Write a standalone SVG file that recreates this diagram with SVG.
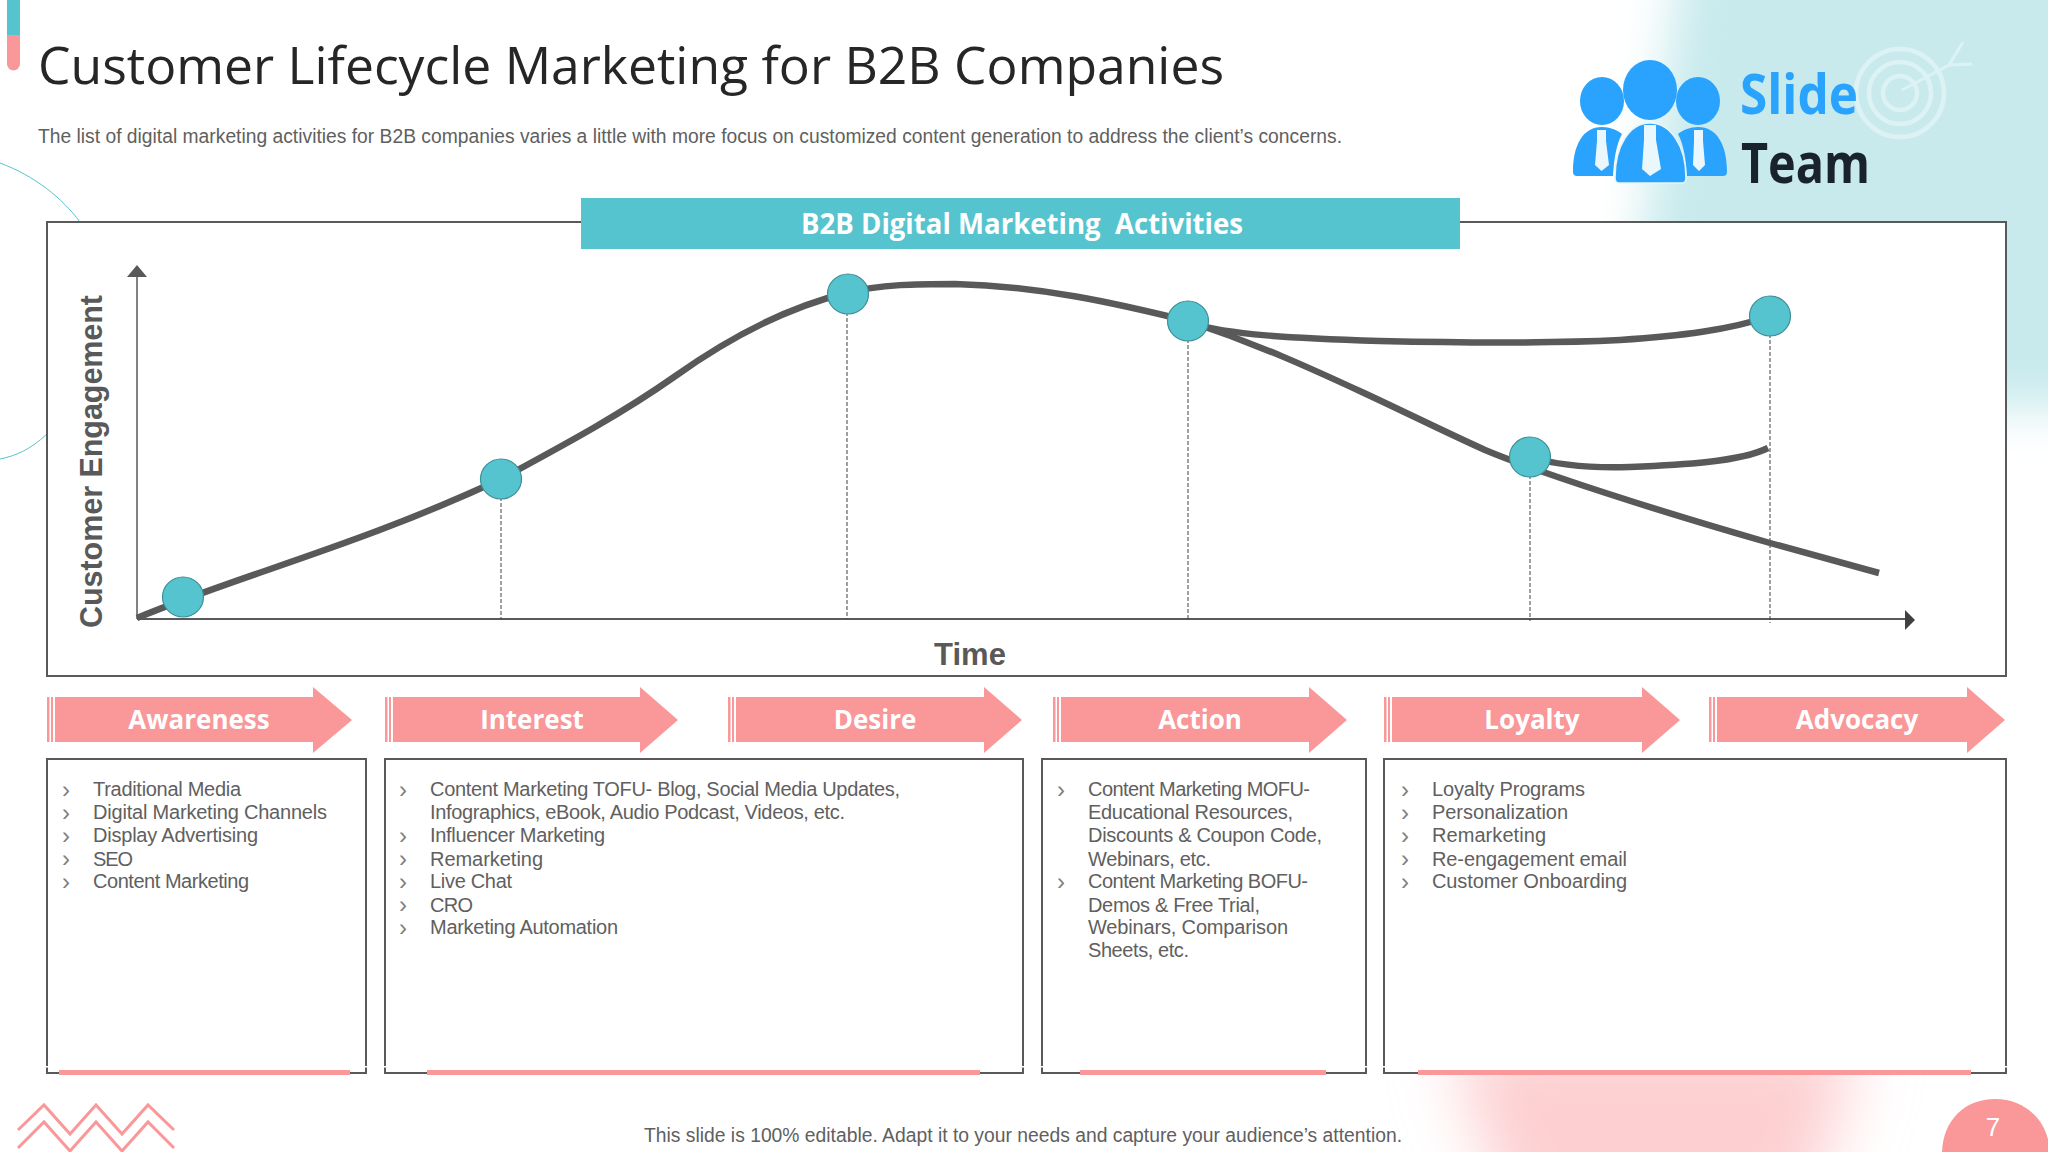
<svg xmlns="http://www.w3.org/2000/svg" width="2048" height="1152" viewBox="0 0 2048 1152">
<defs>
<filter id="blurA" filterUnits="userSpaceOnUse" x="1400" y="-200" width="900" height="800"><feGaussianBlur stdDeviation="24"/></filter>
<filter id="blurB" filterUnits="userSpaceOnUse" x="1250" y="900" width="800" height="420"><feGaussianBlur stdDeviation="32"/></filter>
</defs>
<style>
.t{font-family:"Liberation Sans",Arial,sans-serif;fill:#606060;font-size:20px}
.o{font-family:"Open Sans","Noto Sans",sans-serif}
.box{fill:#fff;stroke:#595959;stroke-width:2}
.arr{fill:#f99799}
.arrlbl{font-family:"Open Sans","Noto Sans",sans-serif;font-weight:700;font-size:26px;fill:#fff;text-anchor:middle}
.under{fill:#f99799}
.nick{fill:#fff}
.dash{stroke:#404040;stroke-width:1;stroke-dasharray:4 2;fill:none}
.curve{fill:none;stroke:#595959;stroke-width:6.500}
.dot{fill:#56c4cf;stroke:#3f8f98;stroke-width:1.2}
.b{font-family:"Liberation Sans",Arial,sans-serif;fill:#7f7f7f;font-size:24px}
</style>
<rect width="2048" height="1152" fill="#fff"/>
<g id="background">
<path d="M1690 -100H2148V408H1618Z" fill="#c8eaed" filter="url(#blurA)"/>
<path d="M1450 1040H1860L1805 1220H1510Z" fill="#fdcfd0" filter="url(#blurB)"/>
<path d="M0 163C35 176 62 198 80 222" fill="none" stroke="#56c4cf" stroke-width="1"/>
<path d="M47 434C30 450 15 456 0 459" fill="none" stroke="#56c4cf" stroke-width="1"/>
<rect x="7" y="0" width="13" height="35" fill="#56c4cf"/>
<path d="M7 35H20V64A6.500 6.500 0 0 1 7 64Z" fill="#f99799"/>
<g fill="none" stroke="#f99799" stroke-width="3">
<path d="M18 1130L44 1105L70 1134L96 1105L122 1134L148 1105L174 1130"/>
<path d="M18 1148L44 1122L70 1151L96 1122L122 1151L148 1122L174 1148"/>
</g>
<path d="M1942 1152C1943 1120 1965 1099 1995 1099C2025 1099 2048 1120 2050 1152Z" fill="#f99799"/>
<text x="1993" y="1136" font-family="Liberation Sans,Arial,sans-serif" font-size="26" fill="#fff" text-anchor="middle">7</text>
</g>
<g id="logo">
<g fill="none" stroke="#e2f5f7" stroke-width="4.500" opacity="0.8">
<circle cx="1900" cy="93" r="44"/><circle cx="1900" cy="93" r="31"/><circle cx="1900" cy="93" r="17"/>
<path d="M1902 90L1949 65L1963 42M1949 65L1972 64" stroke-width="3"/>
</g>
<g fill="#29a3fe">
<ellipse cx="1602" cy="101" rx="22" ry="24"/>
<ellipse cx="1698" cy="101" rx="22" ry="24"/>
<ellipse cx="1650" cy="90" rx="27" ry="30"/>
<path d="M1573 172C1573 145 1583 127 1602 127C1610 127 1617 130 1622 134C1616 145 1614 160 1613 176H1577C1575 176 1573 175 1573 172Z"/>
<path d="M1678 134C1683 130 1690 127 1698 127C1717 127 1727 145 1727 172C1727 175 1725 176 1723 176H1687C1686 160 1684 145 1678 134Z"/>
<path d="M1615 178C1615 145 1630 123 1650 123C1670 123 1686 145 1686 178C1686 181 1684 183 1682 183H1619C1617 183 1615 181 1615 178Z" stroke="#e6f6f8" stroke-width="1.500"/>
</g>
<g fill="#eaf8fd">
<path d="M1597 130H1606V141L1609 165L1601.500 171L1595 165L1597 141Z"/>
<path d="M1644 125H1656V140L1661 169L1650 176L1642 169L1644 140Z"/>
<path d="M1694 130H1703V141L1705 165L1699 171L1693 165L1694 141Z"/>
</g>
<text x="1740" y="114" font-family="Open Sans,Noto Sans,sans-serif" font-weight="700" font-size="56" fill="#29a3fe" textLength="118" lengthAdjust="spacingAndGlyphs">Slide</text>
<text x="1741" y="183" font-family="Open Sans,Noto Sans,sans-serif" font-weight="700" font-size="56" fill="#18232d" textLength="129" lengthAdjust="spacingAndGlyphs">Team</text>
</g>
<g id="header">
<text class="o" x="38" y="84" font-size="52" fill="#262626" textLength="1186" lengthAdjust="spacingAndGlyphs">Customer Lifecycle Marketing for B2B Companies</text>
<text class="t" x="38" y="143" textLength="1304" lengthAdjust="spacingAndGlyphs">The list of digital marketing activities for B2B companies varies a little with more focus on customized content generation to address the client’s concerns.</text>
</g>
<g id="chart">
<rect class="box" x="47" y="222" width="1959" height="454"/>
<rect x="581" y="198" width="879" height="51" fill="#56c4cf"/>
<text x="1022" y="234" class="o" font-weight="700" font-size="29" fill="#fff" text-anchor="middle" textLength="442" lengthAdjust="spacingAndGlyphs" xml:space="preserve">B2B Digital Marketing  Activities</text>
<text transform="translate(102 628) rotate(-90)" font-family="Liberation Sans,Arial,sans-serif" font-weight="700" font-size="31" fill="#595959" textLength="333" lengthAdjust="spacingAndGlyphs">Customer Engagement</text>
<text x="970" y="665" font-family="Liberation Sans,Arial,sans-serif" font-weight="700" font-size="31" fill="#595959" text-anchor="middle">Time</text>
</g>
<g id="connectors">
<path d="M137 619V275" stroke="#595959" stroke-width="1.500" fill="none"/><path d="M127 277L137 265L147 277Z" fill="#595959"/>
<path d="M137 619H1906" stroke="#595959" stroke-width="2" fill="none"/><path d="M1905 610L1915 620L1905 630Z" fill="#404040"/>
<path class="dash" d="M501 479V619M847 294V619M1188 321V621M1530 457V621M1770 316V623"/>
<path class="curve" d="M137 618C240 575 360 545 501 479C560 447 620 415 674 377C730 337 785 308 846 293C880 284 920 284 955 284C1040 286 1115 303 1188 321C1260 345 1310 368 1364 393C1405 412 1445 432 1485 450C1540 473 1655 510 1770 543L1879 573"/>
<path class="curve" d="M1190 323C1230 335 1290 338 1380 341C1470 343 1560 343 1620 340C1680 336 1730 330 1770 316"/>
<path class="curve" d="M1530 457C1560 466 1600 468 1630 467C1680 465 1740 462 1768 448"/>
</g>
<g id="node-1"><ellipse class="dot" cx="183" cy="597" rx="20.500" ry="20"/></g>
<g id="node-2"><ellipse class="dot" cx="501" cy="479" rx="20.500" ry="20"/></g>
<g id="node-3"><ellipse class="dot" cx="848" cy="294" rx="20.500" ry="20"/></g>
<g id="node-4"><ellipse class="dot" cx="1188" cy="321" rx="20.500" ry="20"/></g>
<g id="node-5"><ellipse class="dot" cx="1530" cy="457" rx="20.500" ry="20"/></g>
<g id="node-6"><ellipse class="dot" cx="1770" cy="316" rx="20.500" ry="20"/></g>
<g id="stage-awareness">
<path class="arr" d="M47 697H49.500V742H47ZM51 697V742H53V697ZM55 697H313V687L352 720L313 753V742H55Z"/>
<text class="arrlbl" x="199" y="729">Awareness</text>
</g>
<g id="stage-interest">
<path class="arr" d="M385 697H387.500V742H385ZM389 697V742H391V697ZM393 697H640V687L678 720L640 753V742H393Z"/>
<text class="arrlbl" x="532" y="729">Interest</text>
</g>
<g id="stage-desire">
<path class="arr" d="M728 697H730.500V742H728ZM732 697V742H734V697ZM736 697H984V687L1022 720L984 753V742H736Z"/>
<text class="arrlbl" x="875" y="729">Desire</text>
</g>
<g id="stage-action">
<path class="arr" d="M1053 697H1055.500V742H1053ZM1057 697V742H1059V697ZM1061 697H1309V687L1347 720L1309 753V742H1061Z"/>
<text class="arrlbl" x="1200" y="729">Action</text>
</g>
<g id="stage-loyalty">
<path class="arr" d="M1384 697H1386.500V742H1384ZM1388 697V742H1390V697ZM1392 697H1642V687L1680 720L1642 753V742H1392Z"/>
<text class="arrlbl" x="1532" y="729">Loyalty</text>
</g>
<g id="stage-advocacy">
<path class="arr" d="M1709 697H1711.500V742H1709ZM1713 697V742H1715V697ZM1717 697H1967V687L2005 720L1967 753V742H1717Z"/>
<text class="arrlbl" x="1857" y="729">Advocacy</text>
</g>
<g id="box-awareness">
<rect class="box" x="47" y="759" width="319" height="314"/><rect class="under" x="59" y="1070" width="291" height="5"/>
<rect class="nick" x="45" y="1066" width="4" height="1.500"/><rect class="nick" x="364" y="1066" width="4" height="1.500"/>
<text class="b" x="62" y="798">›</text><text class="b" x="62" y="821">›</text><text class="b" x="62" y="844">›</text><text class="b" x="62" y="867">›</text><text class="b" x="62" y="890">›</text>
<text class="t" x="93" y="796" textLength="148">Traditional Media</text>
<text class="t" x="93" y="819" textLength="234">Digital Marketing Channels</text>
<text class="t" x="93" y="842" textLength="165">Display Advertising</text>
<text class="t" x="93" y="866" textLength="40">SEO</text>
<text class="t" x="93" y="888" textLength="156">Content Marketing</text>
</g>
<g id="box-interest">
<rect class="box" x="385" y="759" width="638" height="314"/><rect class="under" x="427" y="1070" width="553" height="5"/>
<rect class="nick" x="383" y="1066" width="4" height="1.500"/><rect class="nick" x="1021" y="1066" width="4" height="1.500"/>
<text class="b" x="399" y="798">›</text><text class="b" x="399" y="844">›</text><text class="b" x="399" y="867">›</text><text class="b" x="399" y="890">›</text><text class="b" x="399" y="913">›</text><text class="b" x="399" y="936">›</text>
<text class="t" x="430" y="796" textLength="470">Content Marketing TOFU- Blog, Social Media Updates,</text>
<text class="t" x="430" y="819" textLength="415">Infographics, eBook, Audio Podcast, Videos, etc.</text>
<text class="t" x="430" y="842" textLength="175">Influencer Marketing</text>
<text class="t" x="430" y="866" textLength="113">Remarketing</text>
<text class="t" x="430" y="888" textLength="82">Live Chat</text>
<text class="t" x="430" y="912" textLength="43">CRO</text>
<text class="t" x="430" y="934" textLength="188">Marketing Automation</text>
</g>
<g id="box-action">
<rect class="box" x="1042" y="759" width="324" height="314"/><rect class="under" x="1080" y="1070" width="246" height="5"/>
<rect class="nick" x="1040" y="1066" width="4" height="1.500"/><rect class="nick" x="1364" y="1066" width="4" height="1.500"/>
<text class="b" x="1057" y="798">›</text><text class="b" x="1057" y="890">›</text>
<text class="t" x="1088" y="796" textLength="222">Content Marketing MOFU-</text>
<text class="t" x="1088" y="819" textLength="205">Educational Resources,</text>
<text class="t" x="1088" y="842" textLength="234">Discounts &amp; Coupon Code,</text>
<text class="t" x="1088" y="866" textLength="123">Webinars, etc.</text>
<text class="t" x="1088" y="888" textLength="220">Content Marketing BOFU-</text>
<text class="t" x="1088" y="912" textLength="172">Demos &amp; Free Trial,</text>
<text class="t" x="1088" y="934" textLength="200">Webinars, Comparison</text>
<text class="t" x="1088" y="957" textLength="101">Sheets, etc.</text>
</g>
<g id="box-loyalty">
<rect class="box" x="1384" y="759" width="622" height="314"/><rect class="under" x="1418" y="1070" width="553" height="5"/>
<rect class="nick" x="1382" y="1066" width="4" height="1.500"/><rect class="nick" x="2004" y="1066" width="4" height="1.500"/>
<text class="b" x="1401" y="798">›</text><text class="b" x="1401" y="821">›</text><text class="b" x="1401" y="844">›</text><text class="b" x="1401" y="867">›</text><text class="b" x="1401" y="890">›</text>
<text class="t" x="1432" y="796" textLength="153">Loyalty Programs</text>
<text class="t" x="1432" y="819" textLength="136">Personalization</text>
<text class="t" x="1432" y="842" textLength="114">Remarketing</text>
<text class="t" x="1432" y="866" textLength="195">Re-engagement email</text>
<text class="t" x="1432" y="888" textLength="195">Customer Onboarding</text>
</g>
<g id="footer">
<text class="t" x="644" y="1142" textLength="758" lengthAdjust="spacingAndGlyphs">This slide is 100% editable. Adapt it to your needs and capture your audience’s attention.</text>
</g>
</svg>
